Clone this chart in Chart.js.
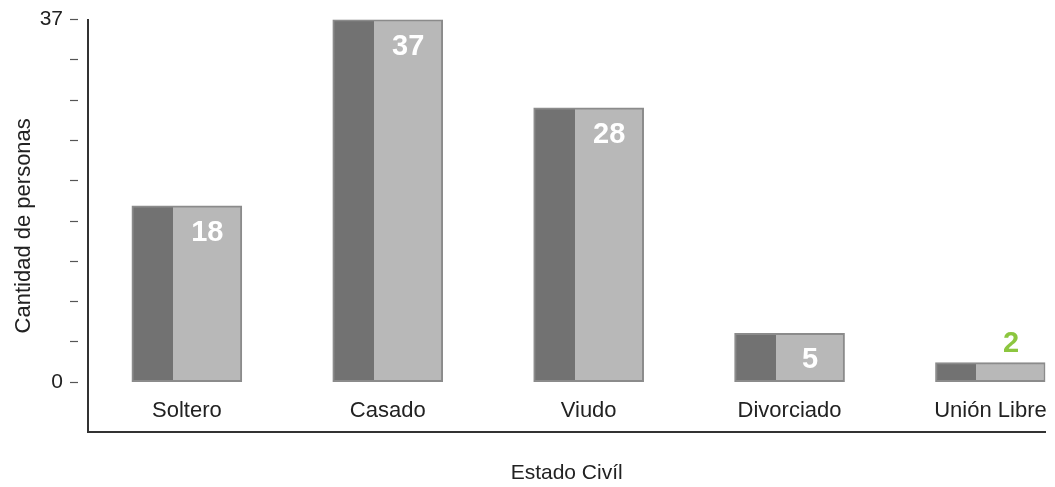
<!DOCTYPE html>
<html lang="es">
<head>
<meta charset="utf-8">
<title>Estado Civil</title>
<script src="https://cdn.jsdelivr.net/npm/chart.js@4.4.1/dist/chart.umd.min.js"></script>
<style>
    html, body { margin: 0; padding: 0; background: #ffffff; }
    #wrap { position: relative; width: 1055px; height: 487px; }
</style>
</head>
<body>
<div id="wrap"><canvas id="estado-civil-chart"></canvas></div>
<script>
// Personas por estado civil
const categories = ["Soltero", "Casado", "Viudo", "Divorciado", "Unión Libre"];
const personas   = [18, 37, 28, 5, 2];
const yLabeled   = [0, 37];   // only these ticks carry a number
const yMax       = 37;
const yTickSteps = 9;         // unlabeled dashes between 0 and 37

const DARK   = "#727272";
const LIGHT  = "#b8b8b8";
const EDGE   = "#8b8b8b";
const GREEN  = "#8cc63f";
const FONT   = "'Liberation Sans', Arial, sans-serif";
const BAR_W  = 110;
const SPLIT  = 41 / 110;      // share of the bar painted dark

// dark strip on the left, light body on the right
function twoToneFill(ctx) {
    if (ctx.type !== "data") return LIGHT;
    const xScale = ctx.chart.scales.x;
    if (!xScale) return LIGHT;
    const cx = xScale.getPixelForValue(ctx.dataIndex);
    if (!isFinite(cx)) return LIGHT;
    const g = ctx.chart.ctx.createLinearGradient(cx - BAR_W / 2, 0, cx + BAR_W / 2, 0);
    g.addColorStop(0, DARK);
    g.addColorStop(SPLIT, DARK);
    g.addColorStop(SPLIT, LIGHT);
    g.addColorStop(1, LIGHT);
    return g;
}

// value printed inside the light part, or above it in green when the bar is too short
const valueLabels = {
    id: "valueLabels",
    afterDatasetsDraw(chart) {
        const ctx = chart.ctx;
        const meta = chart.getDatasetMeta(0);
        ctx.save();
        ctx.font = "bold 29px " + FONT;
        ctx.textAlign = "center";
        ctx.textBaseline = "alphabetic";
        meta.data.forEach((bar, i) => {
            const { x, y, base, width } = bar.getProps(["x", "y", "base", "width"], true);
            const left = x - width / 2;
            const cx = left + width * (SPLIT + (1 - SPLIT) / 2);
            const text = String(personas[i]);
            if (base - y > 40) {
                ctx.fillStyle = "#ffffff";
                ctx.fillText(text, cx, y + 35);
            } else {
                ctx.fillStyle = GREEN;
                ctx.fillText(text, cx, y - 11);
            }
        });
        ctx.restore();
    },
};

function initEstadoCivil() {
    const canvas = document.getElementById("estado-civil-chart");
    if (!canvas) return;

    new Chart(canvas, {
        type: "bar",
        data: {
            datasets: [
                {
                    label: "Cantidad de personas",
                    data: categories.map((c, i) => ({ x: i, y: personas[i] })),
                    backgroundColor: twoToneFill,
                    borderColor: EDGE,
                    borderWidth: 2,
                    borderSkipped: false,
                    barThickness: BAR_W,
                },
            ],
        },
        options: {
            responsive: true,
            maintainAspectRatio: false,
            animation: false,
            layout: { padding: { top: 18, right: 5, bottom: 0, left: 0 } },
            plugins: {
                legend: { display: false },
                tooltip: { enabled: false },
            },
            scales: {
                x: {
                    type: "linear",
                    min: -0.492,
                    max: 4.273,
                    offset: false,
                    afterBuildTicks: axis => {
                        axis.ticks = categories.map((c, i) => ({ value: i }));
                    },
                    afterFit: axis => { axis.height = 55; },
                    grid: { display: false, offset: false },
                    border: { display: true, color: "#333333", width: 2 },
                    ticks: {
                        autoSkip: false,
                        maxRotation: 0,
                        mirror: true,     // category names sit above the axis line
                        padding: 8,
                        color: "#222222",
                        font: { family: FONT, size: 22 },
                        callback: (v, idx) => categories[idx],
                    },
                    title: {
                        display: true,
                        text: "Estado Civíl",
                        color: "#222222",
                        font: { family: FONT, size: 21 },
                        padding: { top: 0, bottom: 1 },
                    },
                },
                y: {
                    min: -5.08,
                    max: yMax,
                    afterBuildTicks: axis => {
                        const ticks = [];
                        for (let k = 0; k <= yTickSteps; k++) {
                            ticks.push({ value: yMax * k / yTickSteps });
                        }
                        axis.ticks = ticks;
                    },
                    afterFit: axis => { axis.width = 88; },
                    grid: {
                        display: true,
                        drawOnChartArea: false,
                        drawTicks: true,
                        tickLength: 18,
                        tickColor: "#555555",
                        tickWidth: 1.2,
                        tickBorderDash: [8, 40],
                    },
                    border: { display: true, color: "#333333", width: 2 },
                    ticks: {
                        padding: 7,
                        color: "#222222",
                        font: { family: FONT, size: 21 },
                        callback: v => (yLabeled.includes(v) ? String(v) : ""),
                    },
                    title: {
                        display: true,
                        text: "Cantidad de personas",
                        color: "#222222",
                        font: { family: FONT, size: 22 },
                        padding: { top: 11, bottom: 0 },
                    },
                },
            },
        },
        plugins: [valueLabels],
    });
}

if (document.readyState === "loading") {
    document.addEventListener("DOMContentLoaded", initEstadoCivil);
} else {
    initEstadoCivil();
}
</script>
</body>
</html>
